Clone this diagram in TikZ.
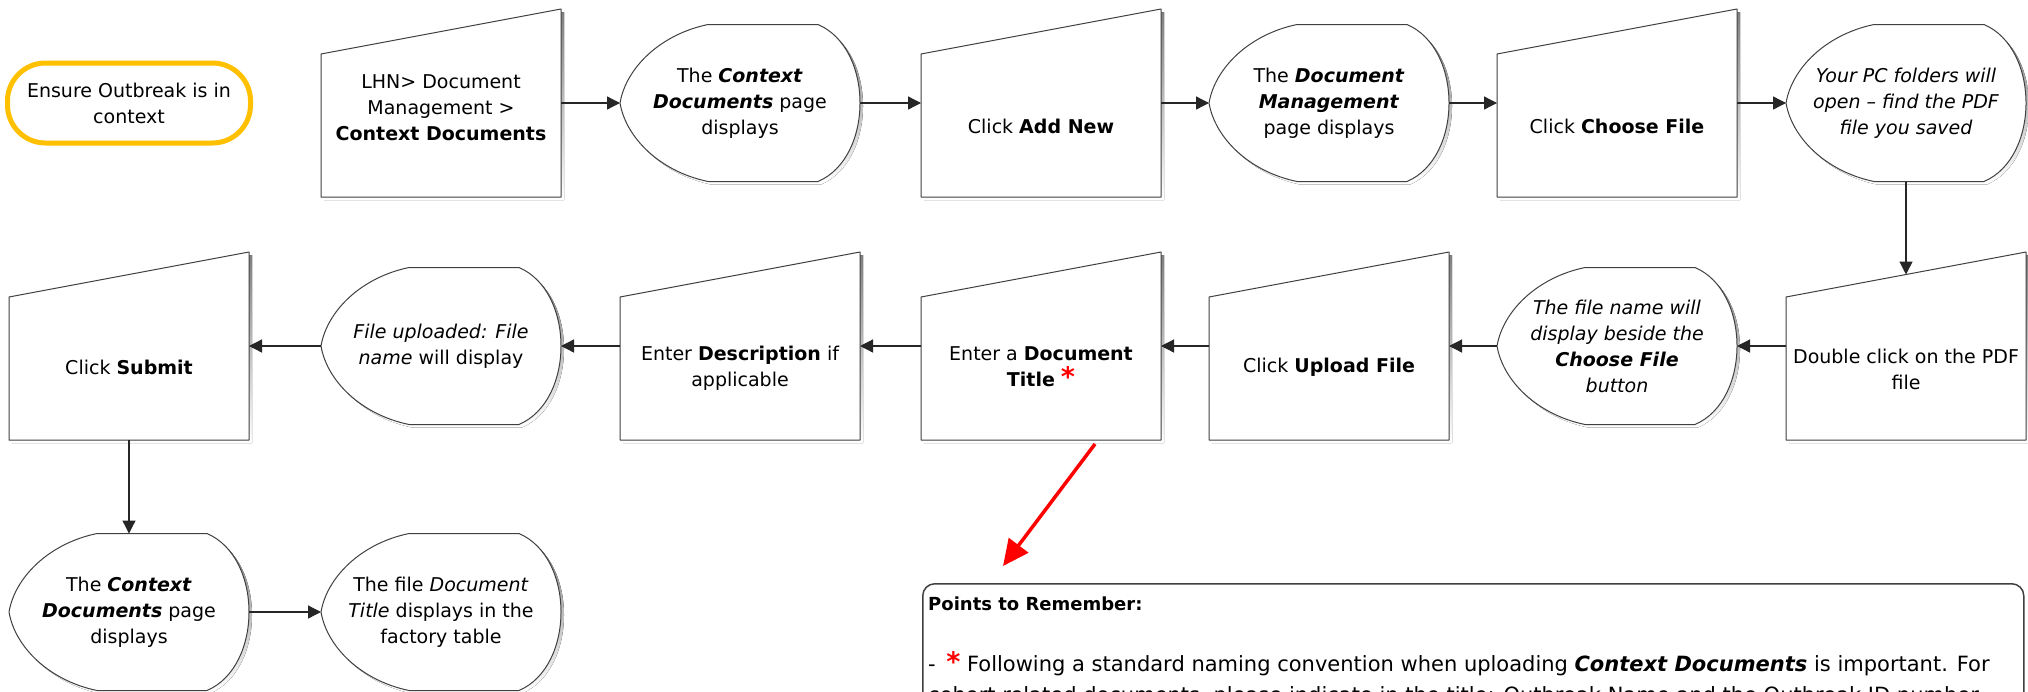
\documentclass[tikz,border=0pt]{standalone}
\usepackage{fontspec}
\setmainfont{DejaVu Sans}
\usetikzlibrary{arrows.meta,calc}

\definecolor{termring}{HTML}{FFC000}
\definecolor{edgegray}{HTML}{404040}
\definecolor{shade}{HTML}{D2D2D2}

\newcommand\bi[1]{\textbf{\textit{#1}}}
\newcommand\redstar{{\color{red}\fontsize{27}{26}\selectfont\textbf{*}}}

% manual-input step: slanted top, drawn over the empty node of the same name
\newcommand\manualinput[1]{%
  \begin{scope}[shift={(#1.north west)}]
    \fill[shade] (3,48) -- (243,3) -- (243,191) -- (3,191) -- cycle;
    \draw[outline] (0,45) -- (240,0) -- (240,188) -- (0,188) -- cycle;
  \end{scope}}

% display step: pointed left side, rounded right side
\newcommand\displayshape[1]{%
  \begin{scope}[shift={(#1.north west)}]
    \fill[shade,shift={(3,3)}] (88,0) -- (198,0) .. controls (254,24) and (254,133) .. (198,157)
      -- (88,157) .. controls (40,147) and (6,113.5) .. (0,78.5)
      .. controls (6,43.5) and (40,10) .. (88,0) -- cycle;
    \draw[outline] (88,0) -- (198,0) .. controls (254,24) and (254,133) .. (198,157)
      -- (88,157) .. controls (40,147) and (6,113.5) .. (0,78.5)
      .. controls (6,43.5) and (40,10) .. (88,0) -- cycle;
  \end{scope}}

\begin{document}
\begin{tikzpicture}[x=1pt,y=-1pt,
  txt/.style={align=center,inner sep=0,font=\fontsize{19}{26}\selectfont},
  notetxt/.style={inner sep=0,font=\fontsize{21}{28}\selectfont},
  mibox/.style={minimum width=240,minimum height=188,inner sep=0,outer sep=0},
  dbox/.style={minimum width=240,minimum height=157,inner sep=0,outer sep=0},
  outline/.style={draw=edgegray,line width=1pt,fill=white,line join=round},
  conn/.style={draw=black!85,line width=1.3pt,-{Triangle[length=13pt,width=13pt]}},
  hint/.style={draw=red,line width=3.5pt,-{Triangle[length=26pt,width=24pt]}}]

\useasboundingbox (0,0) rectangle (2028,691);
\clip (0,0) rectangle (2028,691);
\fill[white] (0,0) rectangle (2028,691);

% ---- start marker
\node[txt,draw=termring,line width=5pt,rounded corners=38pt,
      minimum width=243,minimum height=80,fill=white] (start) at (129,103)
      {Ensure Outbreak is in\\context};

% ---- step frames
\node[mibox] (mi1) at (441,103) {};
\node[dbox]  (d1)  at (740,103) {};
\node[mibox] (mi2) at (1041,103) {};
\node[dbox]  (d2)  at (1329,103) {};
\node[mibox] (mi3) at (1617,103) {};
\node[dbox]  (d3)  at (1906,103) {};

\node[mibox] (mi4) at (1906,346) {};
\node[dbox]  (d4)  at (1617,346) {};
\node[mibox] (mi5) at (1329,346) {};
\node[mibox] (mi6) at (1041,346) {};
\node[mibox] (mi7) at (740,346) {};
\node[dbox]  (d5)  at (441,346) {};
\node[mibox] (mi8) at (129,346) {};

\node[dbox]  (d6)  at (129,612) {};
\node[dbox]  (d7)  at (441,612) {};

\foreach \n in {mi1,mi2,mi3,mi4,mi5,mi6,mi7,mi8} {\manualinput{\n}}
\foreach \n in {d1,d2,d3,d4,d5,d6,d7} {\displayshape{\n}}

% ---- step texts
\node[txt] (mi1t) at ($(mi1.center)+(0,5)$) {LHN> Document\\Management >\\\textbf{Context Documents}};
\node[txt] (d1t)  at (d1.center) {The \bi{Context}\\\bi{Documents} page\\displays};
\node[txt] (mi2t) at ($(mi2.center)+(0,23)$) {Click \textbf{Add New}};
\node[txt] (d2t)  at (d2.center) {The \bi{Document}\\\bi{Management}\\page displays};
\node[txt] (mi3t) at ($(mi3.center)+(0,23)$) {Click \textbf{Choose File}};
\node[txt] (d3t)  at (d3.center) {\itshape Your PC folders will\\\itshape open – find the PDF\\\itshape file you saved};

\node[txt] (mi4t) at ($(mi4.center)+(0,23)$) {Double click on the PDF\\file};
\node[txt] (d4t)  at (d4.center) {\itshape The file name will\\\itshape display beside the\\\bi{Choose File}\\\itshape button};
\node[txt] (mi5t) at ($(mi5.center)+(0,21)$) {Click \textbf{Upload File}};
\node[txt] (mi6t) at ($(mi6.center)+(0,21)$) {Enter a \textbf{Document}\\\textbf{Title} \redstar};
\node[txt] (mi7t) at ($(mi7.center)+(0,22)$) {Enter \textbf{Description} if\\applicable};
\node[txt] (d5t)  at (d5.center) {\textit{File uploaded: File}\\\textit{name} will display};
\node[txt] (mi8t) at ($(mi8.center)+(0,21)$) {Click \textbf{Submit}};

\node[txt] (d6t)  at (d6.center) {The \bi{Context}\\\bi{Documents} page\\displays};
\node[txt] (d7t)  at (d7.center) {The file \textit{Document}\\\textit{Title} displays in the\\factory table};

% ---- flow
\draw[conn] (mi1.east) -- (d1.west);
\draw[conn] (d1.east) -- (mi2.west);
\draw[conn] (mi2.east) -- (d2.west);
\draw[conn] (d2.east) -- (mi3.west);
\draw[conn] (mi3.east) -- (d3.west);
\draw[conn] (d3.south) -- ($(mi4.north)+(0,22.5)$);
\draw[conn] (mi4.west) -- (d4.east);
\draw[conn] (d4.west) -- (mi5.east);
\draw[conn] (mi5.west) -- (mi6.east);
\draw[conn] (mi6.west) -- (mi7.east);
\draw[conn] (mi7.west) -- (d5.east);
\draw[conn] (d5.west) -- (mi8.east);
\draw[conn] (mi8.south) -- (d6.north);
\draw[conn] (d6.east) -- (d7.west);

% ---- notes panel
\node[draw=edgegray,line width=1.5pt,rounded corners=12pt,fill=white,
      minimum width=1101,minimum height=220,inner sep=0,anchor=north west] (notes) at (922,583) {};
\node[inner sep=0,font=\fontsize{18}{26}\selectfont,anchor=base west] (n1)
  at ($(notes.north west)+(6,27)$) {\textbf{Points to Remember:}};
\node[notetxt,anchor=base west] (n2) at ($(notes.north west)+(6,88)$)
  {-\enspace\redstar\ Following a standard naming convention when uploading \bi{Context Documents} is important. For};
\node[notetxt,anchor=base west] (n3) at ($(notes.north west)+(6,119)$)
  {cohort related documents, please indicate in the title: Outbreak Name and the Outbreak ID number};

\coordinate (hintfrom) at ($(mi6.south)+(54,4)$);
\coordinate (hintto) at (1003,566);
\draw[hint] (hintfrom) -- (hintto);

\end{tikzpicture}
\end{document}
